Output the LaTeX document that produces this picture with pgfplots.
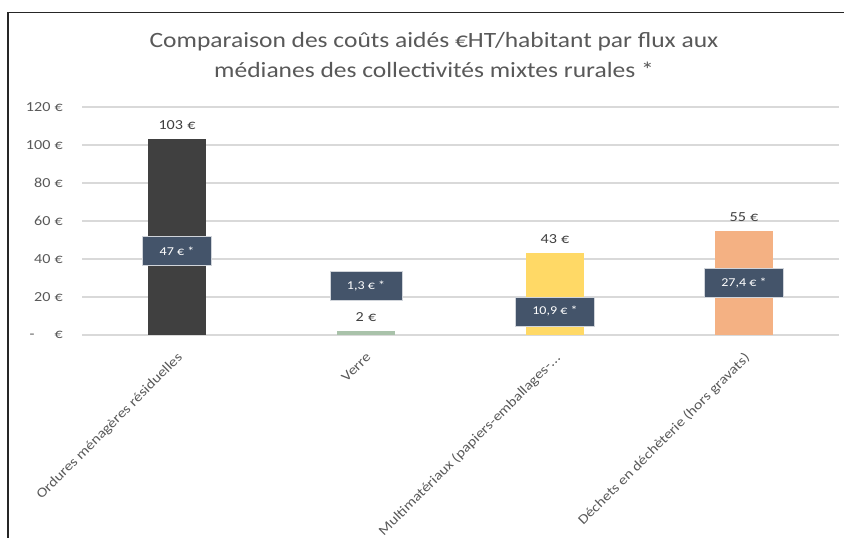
\documentclass[border=0pt]{standalone}
\usepackage{fontspec}
\setmainfont{Carlito}[FakeStretch=1.17]
\usepackage{pgfplots}
\pgfplotsset{compat=1.18}
\definecolor{txt}{HTML}{595959}
\definecolor{gridc}{HTML}{D9D9D9}
\definecolor{c1}{HTML}{404040}
\definecolor{c2}{HTML}{A9C2AA}
\definecolor{c3}{HTML}{FFD966}
\definecolor{c4}{HTML}{F4B183}
\definecolor{boxc}{HTML}{44546A}
\newcommand{\eu}{\hspace{0.3em}€}
\pgfplotsset{
  valbar/.style={ybar, bar width=58pt, bar shift=0pt, draw=none, fill=#1,
    nodes near coords, point meta=explicit symbolic,
    nodes near coords style={anchor=south, yshift=6.5pt, text=c1,
      font=\fontsize{13.8}{16}\selectfont}},
}
\begin{document}
\begin{tikzpicture}
\useasboundingbox (0,0) rectangle (844pt,-538pt);
\fill[white] (0,0) rectangle (844pt,-538pt);
\draw[line width=1.6pt, black!85] (8pt,-545pt) -- (8pt,-12.5pt) -- (850pt,-12.5pt);
\node[align=center, text=txt, font=\fontsize{21.8}{30}\selectfont] at (434pt,-55pt)
  {Comparaison des coûts aidés €HT/habitant par flux aux\\médianes des collectivités mixtes rurales *};
\begin{axis}[
  at={(82.5pt,-335pt)}, anchor=south west,
  scale only axis, width=756pt, height=228pt,
  xmin=-0.5, xmax=3.5, ymin=0, ymax=120,
  axis line style={draw=none},
  major tick length=0pt,
  ytick={0,20,40,60,80,100,120},
  yticklabels={{-\hspace{20pt}€},{20\eu},{40\eu},{60\eu},{80\eu},{100\eu},{120\eu}},
  yticklabel style={anchor=east, inner sep=0pt, xshift=-19.5pt, text=txt,
    font=\fontsize{13.8}{16}\selectfont},
  ymajorgrids, grid style={gridc, line width=1.2pt},
  xtick={0,1,2,3},
  xticklabels={{Ordures ménagères résiduelles}, {Verre}, {Multimatériaux (papiers-emballages-.\kern0.3pt.\kern0.3pt.}, {Déchets en déchèterie (hors gravats)}},
  xticklabel style={rotate=45, anchor=north east, inner sep=1pt, text=txt,
    xshift=-11pt, yshift=-10pt,
    font=\fontsize{13.6}{16}\selectfont},
  clip=false,
]
\addplot[valbar=c1] coordinates {(0,103) [103\eu]};
\addplot[valbar=c2] coordinates {(1,2) [2\eu]};
\addplot[valbar=c3] coordinates {(2,43) [43\eu]};
\addplot[valbar=c4] coordinates {(3,54.5) [55\eu]};
\addplot[draw=none, mark=none, nodes near coords, nodes near coords align=center,
  point meta=explicit symbolic,
  nodes near coords style={anchor=center, fill=boxc, draw=white!75!boxc, line width=0.8pt,
    text=white, inner xsep=17pt, inner ysep=0pt, minimum height=29pt,
    font=\fontsize{12}{14}\selectfont}]
  coordinates {(0,44.2) [47 € *] (1,25.8) [1,3 € *] (2,12.4) [10,9 € *] (3,27.4) [27,4 € *]};
\end{axis}
\end{tikzpicture}
\end{document}
